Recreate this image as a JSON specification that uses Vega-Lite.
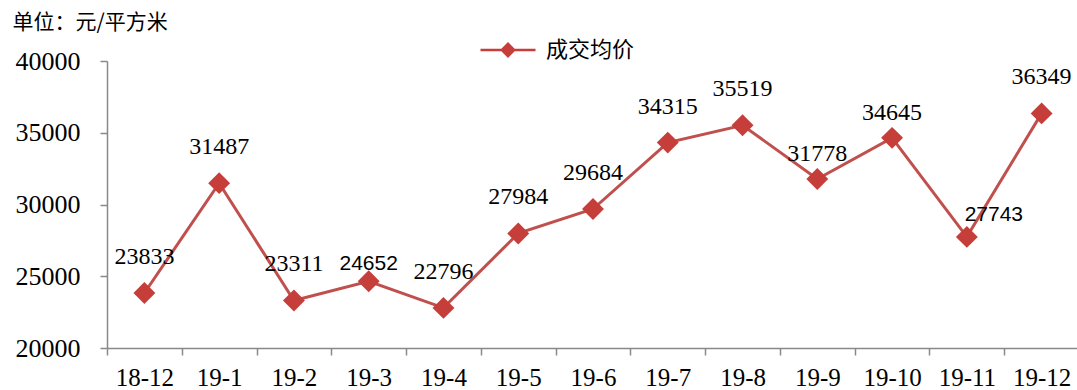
{
  "$schema": "https://vega.github.io/schema/vega-lite/v6.json",
  "autosize": "none",
  "width": 972,
  "height": 287,
  "padding": {"left": 107, "top": 61, "right": 0, "bottom": 42},
  "background": "white",
  "data": {"values": [
    {"month": "18-12", "price": 23833},
    {"month": "19-1", "price": 31487},
    {"month": "19-2", "price": 23311},
    {"month": "19-3", "price": 24652},
    {"month": "19-4", "price": 22796},
    {"month": "19-5", "price": 27984},
    {"month": "19-6", "price": 29684},
    {"month": "19-7", "price": 34315},
    {"month": "19-8", "price": 35519},
    {"month": "19-9", "price": 31778},
    {"month": "19-10", "price": 34645},
    {"month": "19-11", "price": 27743},
    {"month": "19-12", "price": 36349}
  ]},
  "encoding": {
    "x": {"field": "month", "type": "ordinal", "sort": null,
      "scale": {"paddingInner": 0, "paddingOuter": 0},
      "axis": {"title": null, "labelAngle": 0, "labelFont": "Liberation Serif", "labelFontSize": 25, "labelColor": "#000",
        "labelPadding": 10, "tickBand": "extent", "tickSize": 7, "tickColor": "#898989", "domainColor": "#898989", "domainWidth": 1.5, "tickWidth": 1.5, "grid": false}},
    "y": {"field": "price", "type": "quantitative",
      "scale": {"domain": [20000, 40000], "nice": false, "zero": false},
      "axis": {"values": [20000, 25000, 30000, 35000, 40000], "format": "d", "grid": false,
        "labelFont": "Liberation Serif", "labelFontSize": 26, "labelColor": "#000", "labelPadding": 20,
        "tickSize": 7, "tickColor": "#898989", "domainColor": "#898989", "domainWidth": 1.5, "tickWidth": 1.5,
        "title": "单位：元/平方米", "titleAngle": 0, "titleAlign": "left", "titleBaseline": "middle",
        "titleX": -95, "titleY": -39, "titleFont": "Noto Sans CJK SC", "titleFontSize": 21, "titleFontWeight": "normal", "titleColor": "#000"}}
  },
  "layer": [
    {"mark": {"type": "line", "color": "#C0504D", "strokeWidth": 3}},
    {"mark": {"type": "point", "shape": "diamond", "filled": true, "size": 480, "opacity": 1},
      "encoding": {"color": {"datum": "成交均价", "scale": {"range": ["#C63E3A"]},
        "legend": {"title": null, "orient": "none", "legendX": 389, "legendY": -23,
          "symbolType": "M-2.5,-0.12 L2.5,-0.12 L2.5,0.12 L-2.5,0.12 Z M0,-0.72 L0.72,0 L0,0.72 L-0.72,0 Z",
          "symbolSize": 484, "symbolOpacity": 1, "labelOffset": 26, "labelFont": "Noto Sans CJK SC", "labelFontSize": 22, "labelColor": "#000", "labelBaseline": "middle"}}}},
    {"transform": [{"filter": "indexof(['19-3','19-11','19-9','19-10'], datum.month) < 0"}],
      "mark": {"type": "text", "style": "serifLabel", "dy": -36},
      "encoding": {"text": {"field": "price", "type": "quantitative", "format": "d"}}},
    {"transform": [{"filter": "datum.month == '19-9' || datum.month == '19-10'"}],
      "mark": {"type": "text", "style": "serifLabel", "dy": -25},
      "encoding": {"text": {"field": "price", "type": "quantitative", "format": "d"}}},
    {"transform": [{"filter": "datum.month == '19-3'"}],
      "mark": {"type": "text", "style": "sansLabel", "dy": -17},
      "encoding": {"text": {"field": "price", "type": "quantitative", "format": "d"}}},
    {"transform": [{"filter": "datum.month == '19-11'"}],
      "mark": {"type": "text", "style": "sansLabel", "dx": 27, "dy": -22},
      "encoding": {"text": {"field": "price", "type": "quantitative", "format": "d"}}}
  ],
  "config": {
    "view": {"stroke": null},
    "style": {
      "serifLabel": {"font": "Liberation Serif", "fontSize": 24, "fill": "#000", "baseline": "middle"},
      "sansLabel": {"font": "Liberation Sans", "fontSize": 21, "fill": "#000", "baseline": "middle"}
    }
  }
}
